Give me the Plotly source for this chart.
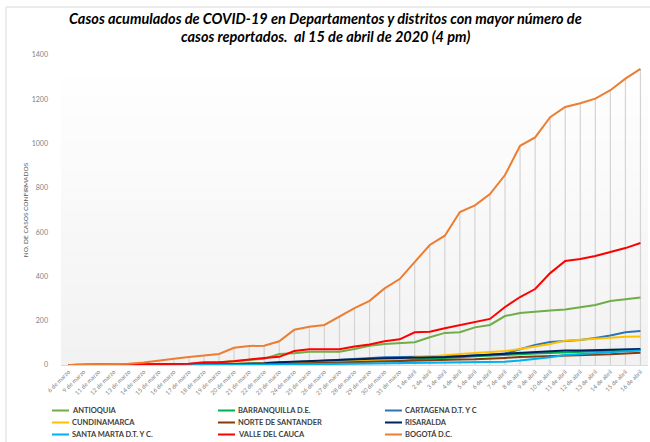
import plotly.graph_objects as go

# ---- data ----
fechas = (["6 de marzo", "9 de marzo"]
          + [f"{d} de marzo" for d in range(11, 32)]
          + [f"{d} de abril" for d in range(1, 17)])

antioquia = [0, 0, 0, 0, 0, 1, 2, 3, 5, 8, 11, 18, 22, 28, 50, 53, 60, 60, 60, 72,
             87, 95, 98, 103, 125, 145, 148, 170, 181, 221, 235, 239, 246, 251, 260, 271, 289, 298, 305]
barranquilla = [0, 0, 0, 0, 0, 0, 0, 0, 0, 1, 1, 2, 3, 4, 5, 7, 9, 10, 12, 14,
                17, 19, 22, 25, 28, 30, 35, 40, 42, 45, 48, 52, 55, 58, 60, 62, 64, 66, 68]
cartagena = [0, 0, 0, 0, 0, 0, 0, 1, 1, 2, 3, 5, 8, 10, 12, 14, 16, 20, 25, 27,
             30, 35, 36, 36, 37, 38, 40, 42, 46, 52, 70, 90, 104, 108, 113, 122, 133, 148, 154]
cundinamarca = [0, 0, 0, 0, 0, 0, 0, 1, 2, 3, 4, 6, 8, 10, 12, 14, 16, 17, 18, 18,
                19, 20, 24, 34, 38, 44, 50, 55, 58, 63, 72, 83, 95, 110, 115, 121, 125, 128, 129]
norte_santander = [0, 0, 0, 0, 0, 0, 0, 0, 0, 0, 1, 1, 2, 3, 4, 6, 8, 9, 10, 12,
                   14, 16, 18, 20, 22, 24, 25, 26, 28, 32, 36, 38, 40, 41, 42, 44, 48, 52, 55]
risaralda = [0, 0, 0, 0, 0, 0, 0, 0, 1, 2, 3, 4, 5, 8, 12, 15, 18, 20, 22, 25,
             28, 30, 32, 33, 35, 36, 40, 44, 48, 52, 56, 60, 63, 65, 66, 68, 70, 71, 72]
santa_marta = [0, 0, 0, 0, 0, 0, 0, 0, 0, 0, 0, 0, 1, 1, 2, 3, 3, 4, 5, 5,
               6, 7, 8, 9, 10, 11, 12, 13, 14, 15, 20, 26, 35, 45, 50, 55, 58, 62, 65]
valle = [0, 0, 0, 1, 1, 2, 4, 5, 6, 12, 12, 17, 26, 32, 37, 63, 71, 71, 71, 84,
         93, 107, 116, 148, 150, 166, 181, 194, 208, 262, 307, 343, 415, 470, 479, 492, 510, 528, 551]
bogota = [0, 1, 2, 4, 6, 11, 18, 28, 36, 42, 50, 78, 86, 87, 107, 159, 173, 181, 218, 257,
          290, 346, 388, 467, 542, 584, 691, 721, 772, 858, 990, 1028, 1119, 1165, 1182, 1203, 1241, 1293, 1337]

series = [
    ("ANTIOQUIA", antioquia, "#70AD47"),
    ("BARRANQUILLA D.E.", barranquilla, "#00B050"),
    ("CARTAGENA D.T. Y C", cartagena, "#2E75B6"),
    ("CUNDINAMARCA", cundinamarca, "#FFC000"),
    ("NORTE DE SANTANDER", norte_santander, "#843C0C"),
    ("RISARALDA", risaralda, "#002060"),
    ("SANTA MARTA D.T. Y C.", santa_marta, "#00B0F0"),
    ("VALLE DEL CAUCA", valle, "#FF0000"),
    ("BOGOTÁ D.C.", bogota, "#ED7D31"),
]

titulo = ["Casos acumulados de COVID-19 en Departamentos y distritos con mayor número de",
          "casos reportados.  al 15 de abril de 2020 (4 pm)"]

W, H = 650, 442
ML, MR, MT, MB = 61, 2, 55, 77


def px_x(px):
    return (px - ML) / (W - ML - MR)


def px_y(py):
    return (H - MB - py) / (H - MT - MB)


fig = go.Figure()

# drop lines (Excel style) from the top series down to the axis
fig.add_trace(go.Scatter(
    x=fechas, y=bogota, mode="markers", marker=dict(size=0.1, opacity=0),
    error_y=dict(type="data", symmetric=False, array=[0] * len(bogota), arrayminus=bogota,
                 color="#d4d4d4", thickness=1.2, width=0),
    showlegend=False, hoverinfo="skip",
))

for name, vals, color in series:
    fig.add_trace(go.Scatter(
        x=fechas, y=vals, mode="lines", name=name, showlegend=False,
        line=dict(color=color, width=2), cliponaxis=False,
    ))

# gradient plot background: white at the top, light grey at the bottom
shapes = []
n = 30
for i in range(n):
    t = i / (n - 1)
    g = int(round(242 + (255 - 242) * t))
    shapes.append(dict(type="rect", xref="x domain", yref="y domain",
                       x0=0, x1=1, y0=i / n, y1=(i + 1) / n,
                       fillcolor=f"rgb({g},{g},{g})", line=dict(width=0), layer="below"))
# outer frame of the picture
shapes.append(dict(type="rect", xref="paper", yref="paper",
                   x0=px_x(6), x1=px_x(660), y0=px_y(460), y1=px_y(7),
                   line=dict(color="#d9d9d9", width=1), layer="below"))

annotations = []
# title, two lines set tighter than plotly's own line height
for line, ty in zip(titulo, [19, 37]):
    annotations.append(dict(text=f"<b><i>{line}</i></b>", xref="paper", yref="paper",
                            x=px_x(325), y=px_y(ty), xanchor="center", yanchor="middle",
                            showarrow=False, font=dict(size=14.5, color="#000000")))

# legend, 3 columns x 3 rows like the Excel one
col_x = [52, 218, 385]
row_y = [410.5, 422.5, 434.5]
for k, (name, _, color) in enumerate(series):
    cx, ry = col_x[k % 3], row_y[k // 3]
    shapes.append(dict(type="line", xref="paper", yref="paper",
                       x0=px_x(cx), x1=px_x(cx + 17), y0=px_y(ry), y1=px_y(ry),
                       line=dict(color=color, width=2)))
    annotations.append(dict(text=name, xref="paper", yref="paper", x=px_x(cx + 18), y=px_y(ry),
                            xanchor="left", yanchor="middle", showarrow=False,
                            font=dict(size=7.5, color="#404040", weight="bold")))

fig.update_layout(
    width=W, height=H,
    margin=dict(l=ML, r=MR, t=MT, b=MB),
    paper_bgcolor="white", plot_bgcolor="white",
    font=dict(family="Lato, Open Sans, sans-serif", color="#595959"),
    xaxis=dict(
        type="category", range=[-0.5, 38.5], tickangle=-45, automargin=False,
        tickfont=dict(size=6, color="#7f7f7f"), showgrid=False,
        showline=True, linecolor="#d9d9d9", linewidth=1, ticks="", zeroline=False,
    ),
    yaxis=dict(
        range=[0, 1400], dtick=200, showgrid=False, zeroline=False, ticks="", automargin=False,
        tickfont=dict(size=7, color="#7f7f7f"), ticklabelstandoff=12,
        title=dict(text="NO. DE CASOS CONFIRMADOS", font=dict(size=6.5, color="#595959"), standoff=2),
    ),
    showlegend=False,
    shapes=shapes,
    annotations=annotations,
)

# the page's default body margin would shift the fixed-size figure by 8 px
fig.write_html("out.html", config={"displayModeBar": False},
               post_script="document.body.style.margin='0px';")
